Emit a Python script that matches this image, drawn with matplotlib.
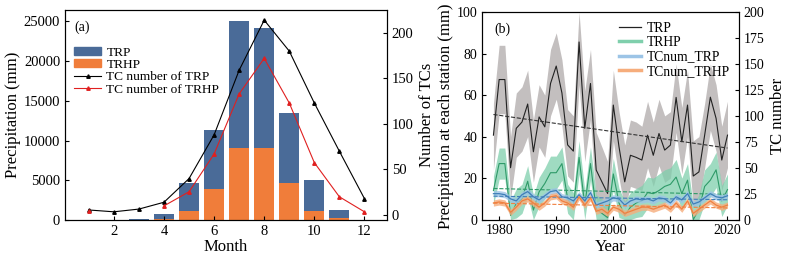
import numpy as np
import matplotlib
matplotlib.use("Agg")
import matplotlib.pyplot as plt
from matplotlib.patches import Patch
from matplotlib.lines import Line2D

plt.rcParams['font.family'] = ['Liberation Serif', 'DejaVu Serif']
plt.rcParams['font.size'] = 10

# ---- panel (a): monthly totals ----
months = np.arange(1, 13)
trp_mm = [0, 0, 150, 700, 4650, 11300, 25000, 24200, 13400, 5000, 1200, 60]
trhp_mm = [0, 0, 0, 100, 1100, 3900, 9000, 9000, 4700, 1100, 300, 0]
tc_trp = [5.5, 3.5, 6.5, 14, 40, 88, 159, 214, 180, 123, 70, 18]
tc_trhp = [4, np.nan, np.nan, 10, 25.5, 67, 133, 172, 123, 57.5, 20, 3.5]

# ---- panel (b): yearly series ----
years = np.arange(1979, 2021)
trp = [40.7, 67.5, 67.5, 25, 44, 47, 55.7, 32.7, 49.5, 44.7, 65.6, 74, 61, 36, 33,
       85.6, 44, 65.6, 23.9, 18.2, 12.6, 55.2, 35, 18.2, 31, 30, 28.7, 40.7, 31, 41.5,
       33.5, 35.9, 58.9, 37.5, 55.2, 21, 23, 40.7, 59, 48.8, 28.7, 40.7]
trp_hi = [56, 84, 84, 40, 61, 64, 72, 48, 65, 60, 82, 90, 77, 53, 50,
          100, 62, 82, 42, 35, 28, 72, 52, 36, 48, 47, 45, 57, 47, 58,
          50, 52, 75, 54, 72, 38, 40, 56, 75, 65, 45, 57]
trp_lo = [24, 51, 51, 10, 30, 33, 40, 18, 35, 30, 50, 58, 45, 21, 18,
          65, 28, 48, 8, 3, 0, 38, 20, 5, 16, 15, 14, 25, 16, 26,
          18, 20, 42, 22, 40, 6, 8, 25, 43, 33, 14, 25]
trhp = [14, 27, 27, 2, 7.8, 10, 18.5, 4.6, 13.4, 17.4, 22.6, 22.6, 27, 10, 6,
        30, 7, 27, 5, 3, 1, 22, 8, 2, 6, 8, 9, 13, 12.5, 14,
        16, 17, 20.5, 12.5, 19, 0, 5, 16, 19, 24, 9, 14.5]
trhp_sd = [7, 7.5, 7.5, 7, 7, 7, 7.5, 7, 7, 7.5, 8, 8, 8, 7, 7,
           8, 7, 8, 7, 7, 7, 7.5, 7, 7, 7, 7, 7.5, 7.5, 7.5, 8,
           8, 8, 8.5, 7.5, 8, 7, 7, 8, 8, 8.5, 7.5, 7.5]
tcnum_trp = [25, 25, 24, 20, 18, 24, 27, 22, 19, 23, 27, 28, 22, 21, 18,
             24, 18, 26, 14, 16, 18, 21, 20, 14, 18, 20, 19, 20, 18, 21,
             20, 16, 22, 19, 25, 15, 17, 21, 25, 22, 21, 23]
tcnum_trhp = [16, 17, 16, 7, 12, 18, 20, 16, 12, 16, 22, 23, 18, 16, 12,
              22, 14, 21, 8, 10, 6, 12, 10, 6, 8, 10, 12, 12, 10, 12,
              14, 10, 16, 10, 18, 6, 10, 14, 18, 14, 12, 14]

fig = plt.figure(figsize=(7.88, 2.63), dpi=100)

# ================= (a) =================
ax1 = fig.add_axes([0.0825, 0.1635, 0.4086, 0.798])
ax1.bar(months, trp_mm, width=0.8, color='#4a6b98', label='TRP')
ax1.bar(months, trhp_mm, width=0.8, color='#f07d3a', label='TRHP')
ax1.set_xlim(0.05, 12.9)
ax1.set_ylim(0, 26400)
ax1.set_xticks([2, 4, 6, 8, 10, 12])
ax1.set_yticks(np.arange(0, 25001, 5000))
ax1.set_xlabel('Month', fontsize=12, labelpad=1)
ax1.set_ylabel('Precipitation (mm)', fontsize=12, labelpad=2)
ax1.tick_params(direction='in', length=3, labelsize=10.5)
ax1.text(0.03, 0.95, '(a)', transform=ax1.transAxes, va='top', ha='left', fontsize=10)

ax1r = ax1.twinx()
ax1r.plot(months, tc_trp, color='black', lw=0.8, marker='^', ms=2.5, label='TC number of TRP')
ax1r.plot(months, tc_trhp, color='#e02020', lw=0.8, marker='^', ms=2.5, label='TC number of TRHP')
ax1r.set_ylim(-5.5, 225)
ax1r.set_yticks([0, 50, 100, 150, 200])
ax1r.set_ylabel('Number of TCs', fontsize=12, labelpad=4)
ax1r.tick_params(direction='in', length=3, labelsize=10.5)

h = [Patch(color='#4a6b98'), Patch(color='#f07d3a'),
     Line2D([], [], color='black', lw=0.8, marker='^', ms=2.5),
     Line2D([], [], color='#e02020', lw=0.8, marker='^', ms=2.5)]
ax1.legend(h, ['TRP', 'TRHP', 'TC number of TRP', 'TC number of TRHP'],
           loc='upper left', bbox_to_anchor=(0.0, 0.87), frameon=False,
           fontsize=9.6, handlelength=2.0, handleheight=0.55, labelspacing=0.02,
           borderpad=0.2, handletextpad=0.4)

# ================= (b) =================
ax2 = fig.add_axes([0.6117, 0.165, 0.326, 0.789])
trp_a = np.array(trp)
trhp_a = np.array(trhp)
sd = np.array(trhp_sd)

ax2.fill_between(years, trp_lo, trp_hi, color='#b9b4b4', alpha=0.85, lw=0)
ax2.plot(years, trp, color='#222222', lw=0.8)
k = np.polyfit(years, trp_a, 1)
ax2.plot(years, np.polyval(k, years), color='#333333', lw=0.8, ls='--')

ax2.fill_between(years, np.clip(trhp_a - sd, 0, None), trhp_a + sd,
                 color='#7fcfac', alpha=0.75, lw=0)
ax2.plot(years, trhp, color='#2e9a68', lw=0.8)
k = np.polyfit(years, trhp_a, 1)
ax2.plot(years, np.polyval(k, years), color='#2e9a68', lw=0.8, ls='--')

ax2.set_xlim(1977, 2022)
ax2.set_ylim(0, 100)
ax2.set_xticks([1980, 1990, 2000, 2010, 2020])
ax2.set_yticks([0, 20, 40, 60, 80, 100])
ax2.set_xlabel('Year', fontsize=12, labelpad=1)
ax2.set_ylabel('Precipitation at each station (mm)', fontsize=12, labelpad=2)
ax2.tick_params(direction='in', length=3, labelsize=10)
ax2.text(0.05, 0.95, '(b)', transform=ax2.transAxes, va='top', ha='left', fontsize=10)

ax2r = ax2.twinx()
n1 = np.array(tcnum_trp)
n2 = np.array(tcnum_trhp)
ax2r.fill_between(years, n1 - 3, n1 + 3, color='#9cc4e6', alpha=0.8, lw=0)
ax2r.plot(years, n1, color='#3f7fb8', lw=0.9)
k = np.polyfit(years, n1, 1)
ax2r.plot(years, np.polyval(k, years), color='#3f7fb8', lw=0.8, ls='--')
ax2r.fill_between(years, n2 - 3, n2 + 3, color='#f6ad7c', alpha=0.8, lw=0)
ax2r.plot(years, n2, color='#f08040', lw=0.9)
k = np.polyfit(years, n2, 1)
ax2r.plot(years, np.polyval(k, years), color='#f08040', lw=0.8, ls='--')
ax2r.set_ylim(0, 200)
ax2r.set_yticks([0, 25, 50, 75, 100, 125, 150, 175, 200])
ax2r.set_ylabel('TC number', fontsize=12, labelpad=4)
ax2r.tick_params(direction='in', length=3, labelsize=10)

h2 = [Line2D([], [], color='#222222', lw=0.9),
      Line2D([], [], color='#7fcfac', lw=2.5),
      Line2D([], [], color='#9cc4e6', lw=2.5),
      Line2D([], [], color='#f6ad7c', lw=2.5)]
ax2r.legend(h2, ['TRP', 'TRHP', 'TCnum_TRP', 'TCnum_TRHP'],
            loc='upper right', bbox_to_anchor=(1.0, 1.0), frameon=False,
            fontsize=9.8, handlelength=1.6, labelspacing=0.1,
            borderpad=0.2, handletextpad=0.4)

fig.savefig('out.png', dpi=100)
